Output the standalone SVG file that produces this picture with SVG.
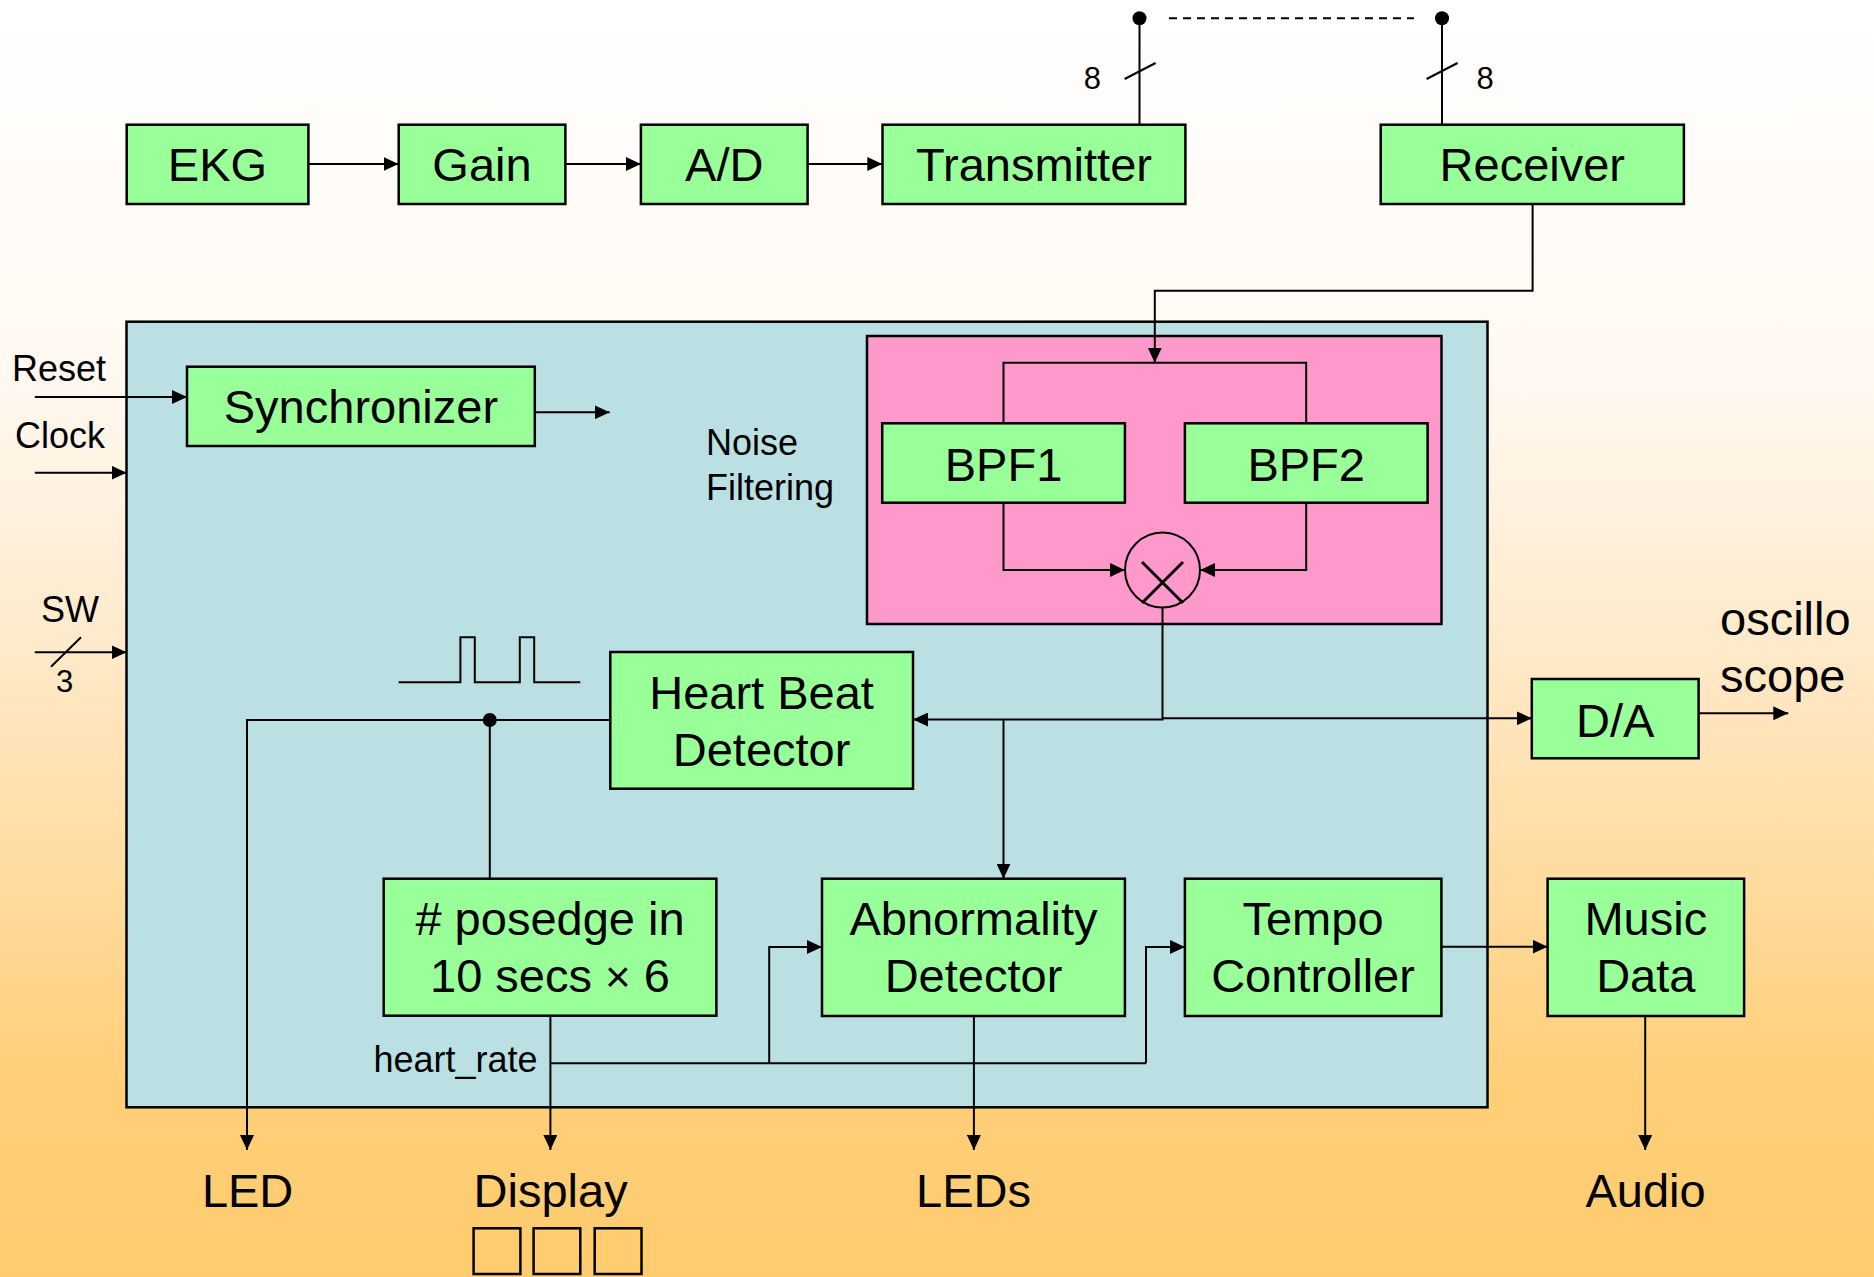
<svg xmlns="http://www.w3.org/2000/svg" width="1874" height="1277" viewBox="0 0 1874 1277">
  <style>
    .blk { fill: #99FF99; stroke: #000; stroke-width: 2.5; }
    .lbl { font-family: "Liberation Sans", Arial, sans-serif; font-size: 47px; fill: #000; text-anchor: middle; }
    .sm { font-family: "Liberation Sans", Arial, sans-serif; font-size: 36px; fill: #000; }
    .tiny { font-family: "Liberation Sans", Arial, sans-serif; font-size: 31px; fill: #000; text-anchor: middle; }
    .w { fill: none; stroke: #000; stroke-width: 2; }
    .wa { fill: none; stroke: #000; stroke-width: 2; marker-end: url(#ah); }
  </style>
  <defs>
    <linearGradient id="bg" x1="0" y1="0" x2="0" y2="1">
      <stop offset="0" stop-color="#FFFFFF"/>
      <stop offset="0.3" stop-color="#FFF8F0"/>
      <stop offset="0.5" stop-color="#FFEACB"/>
      <stop offset="0.7" stop-color="#FFDA9C"/>
      <stop offset="0.85" stop-color="#FFCF78"/>
      <stop offset="1" stop-color="#FFCB6E"/>
    </linearGradient>
    <marker id="ah" markerUnits="userSpaceOnUse" markerWidth="16" markerHeight="14" refX="15" refY="7" orient="auto">
      <path d="M0,0 L15,7 L0,14 Z" fill="#000"/>
    </marker>
  </defs>

  <rect x="0" y="0" width="1874" height="1277" fill="url(#bg)"/>

  <!-- on-chip area -->
  <g id="chip">
    <rect x="126.5" y="321.7" width="1361" height="785.6" fill="#BBE0E3" stroke="#000" stroke-width="2.5"/>
  </g>
  <g id="noise-filter">
    <rect x="867" y="336" width="574.5" height="288" fill="#FF99CC" stroke="#000" stroke-width="2.5"/>
  </g>

  <!-- connectors -->
  <g id="connectors">
    <path class="wa" d="M308.4,164 H398.5"/>
    <path class="wa" d="M565.4,164 H640.8"/>
    <path class="wa" d="M807.6,164 H882.3"/>
    <!-- 8-bit link between transmitter and receiver -->
    <path class="w" d="M1139.5,124.7 V18.3"/>
    <path class="w" d="M1124.6,79 L1155.6,63"/>
    <circle cx="1139.5" cy="18.3" r="7" fill="#000"/>
    <path class="w" d="M1442,124.7 V18.3"/>
    <path class="w" d="M1426.6,79 L1457.6,63"/>
    <circle cx="1442" cy="18.3" r="7" fill="#000"/>
    <path class="w" d="M1169,18.3 H1414" stroke-dasharray="8,6"/>
    <!-- receiver into filter bank -->
    <path class="wa" d="M1532.6,204 V290.7 H1154.8 V362.7"/>
    <path class="w" d="M1003.5,423.3 V362.7 H1306.2 V423.3"/>
    <path class="wa" d="M1003.5,502.7 V570 H1124.8"/>
    <path class="wa" d="M1306.2,502.7 V570 H1200.2"/>
    <path class="wa" d="M1162.5,607.5 V719.5 H913"/>
    <path class="wa" d="M1162.5,718.3 H1531.8"/>
    <path class="wa" d="M1003.5,719.5 V878.7"/>
    <!-- heart beat pulses -->
    <path class="wa" d="M610.3,720 H247 V1150"/>
    <circle cx="489.8" cy="720" r="7" fill="#000"/>
    <path class="w" d="M489.8,720 V878.7"/>
    <path class="w" d="M398.7,682.3 H460.4 V637.3 H474.8 V682.3 H519.8 V637.3 H534.2 V682.3 H580.3"/>
    <!-- heart rate bus -->
    <path class="wa" d="M550.4,1015.7 V1150"/>
    <path class="w" d="M550.4,1063.3 H1146"/>
    <path class="wa" d="M769.2,1063.3 V947 H822"/>
    <path class="wa" d="M1146,1063.3 V947 H1184.9"/>
    <path class="wa" d="M973.9,1016 V1150"/>
    <path class="wa" d="M1441.4,946.7 H1547.6"/>
    <path class="wa" d="M1645.2,1016 V1150"/>
    <path class="wa" d="M1698.6,713.3 H1788.3"/>
    <!-- external inputs -->
    <path class="wa" d="M34.8,397 H187"/>
    <path class="wa" d="M34.8,472.7 H126.5"/>
    <path class="wa" d="M34.8,652.3 H126.5"/>
    <path class="w" d="M51,666.7 L81,637.3"/>
    <path class="wa" d="M534.8,412.3 H609.7"/>
  </g>

  <!-- blocks -->
  <g id="ekg"><rect class="blk" x="126.7" y="124.7" width="181.7" height="79.3"/><text class="lbl" x="217.5" y="181">EKG</text></g>
  <g id="gain"><rect class="blk" x="398.7" y="124.7" width="166.7" height="79.3"/><text class="lbl" x="482" y="181">Gain</text></g>
  <g id="ad"><rect class="blk" x="640.9" y="124.7" width="166.7" height="79.3"/><text class="lbl" x="724.3" y="181">A/D</text></g>
  <g id="transmitter"><rect class="blk" x="882.5" y="124.7" width="302.9" height="79.3"/><text class="lbl" x="1034" y="181">Transmitter</text></g>
  <g id="receiver"><rect class="blk" x="1380.7" y="124.7" width="303.2" height="79.3"/><text class="lbl" x="1532.3" y="181">Receiver</text></g>
  <g id="synchronizer"><rect class="blk" x="187" y="366.7" width="347.8" height="79.3"/><text class="lbl" x="360.9" y="423">Synchronizer</text></g>
  <g id="bpf1"><rect class="blk" x="882.2" y="423.3" width="242.7" height="79.4"/><text class="lbl" x="1003.5" y="480.5">BPF1</text></g>
  <g id="bpf2"><rect class="blk" x="1184.9" y="423.3" width="242.7" height="79.4"/><text class="lbl" x="1306.2" y="480.5">BPF2</text></g>
  <g id="multiplier">
    <circle cx="1162.5" cy="570" r="37.5" fill="none" stroke="#000" stroke-width="2"/>
    <path d="M1142,562 L1183,603 M1183,562 L1142,603" stroke="#000" stroke-width="3" fill="none"/>
  </g>
  <g id="heart-beat-detector"><rect class="blk" x="610.3" y="652" width="302.7" height="136.7"/><text class="lbl" x="761.6" y="709">Heart Beat</text><text class="lbl" x="761.6" y="766">Detector</text></g>
  <g id="da"><rect class="blk" x="1531.8" y="679" width="166.8" height="79.3"/><text class="lbl" x="1615.2" y="736.5">D/A</text></g>
  <g id="posedge-counter"><rect class="blk" x="383.7" y="878.7" width="332.7" height="137"/><text class="lbl" x="550" y="935"># posedge in</text><text class="lbl" x="550" y="992">10 secs <tspan font-size="44">×</tspan> 6</text></g>
  <g id="abnormality-detector"><rect class="blk" x="822" y="878.7" width="302.9" height="137.3"/><text class="lbl" x="973.5" y="935">Abnormality</text><text class="lbl" x="973.5" y="992">Detector</text></g>
  <g id="tempo-controller"><rect class="blk" x="1184.9" y="878.7" width="256.5" height="137.3"/><text class="lbl" x="1313" y="935">Tempo</text><text class="lbl" x="1313" y="992">Controller</text></g>
  <g id="music-data"><rect class="blk" x="1547.6" y="878.7" width="196.5" height="137.3"/><text class="lbl" x="1645.8" y="935">Music</text><text class="lbl" x="1645.8" y="992">Data</text></g>

  <!-- labels -->
  <g id="labels">
    <text class="sm" x="12" y="381">Reset</text>
    <text class="sm" x="15" y="448">Clock</text>
    <text class="sm" x="41" y="621.5">SW</text>
    <text class="tiny" x="64.5" y="691.5">3</text>
    <text class="tiny" x="1092.4" y="89">8</text>
    <text class="tiny" x="1485" y="89">8</text>
    <text class="sm" x="706" y="455">Noise</text>
    <text class="sm" x="706" y="500">Filtering</text>
    <text class="sm" x="373.5" y="1071.5">heart_rate</text>
    <text class="lbl" x="1720" y="635" style="text-anchor:start">oscillo</text>
    <text class="lbl" x="1720" y="692" style="text-anchor:start">scope</text>
    <text class="lbl" x="247.6" y="1207">LED</text>
    <text class="lbl" x="550.6" y="1207">Display</text>
    <text class="lbl" x="973.5" y="1207">LEDs</text>
    <text class="lbl" x="1645.5" y="1207">Audio</text>
  </g>
  <g id="digit-display" fill="none" stroke="#000" stroke-width="2.5">
    <rect x="473.6" y="1228.3" width="46.8" height="45.7"/>
    <rect x="533.6" y="1228.3" width="46.7" height="45.7"/>
    <rect x="594.7" y="1228.3" width="46.8" height="45.7"/>
  </g>
</svg>
